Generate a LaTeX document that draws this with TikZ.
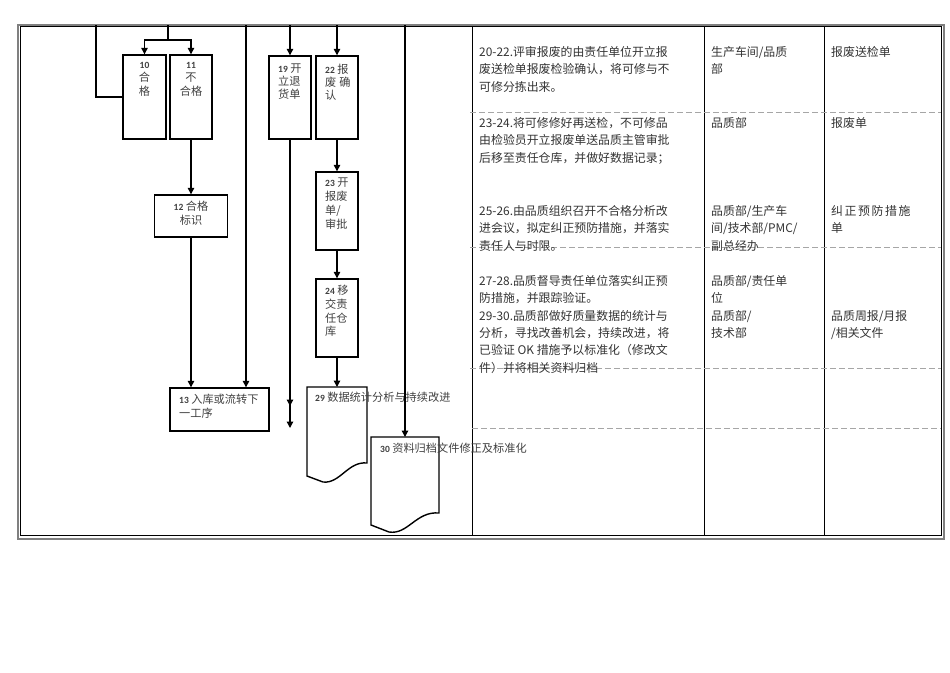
\documentclass[tikz,border=0pt]{standalone}
\usepackage{fontspec}
\setmainfont{Noto Sans CJK SC}
\newfontfamily\numfont{Carlito}
\usetikzlibrary{arrows.meta}
\newcommand\numlab[1]{{\numfont\bfseries\fontsize{9.5}{9.5}\selectfont #1}}
\tikzset{
  box/.style={draw, line width=1.4pt, inner sep=0pt},
  ln/.style={line width=1.3pt},
  arr/.style={line width=1.3pt, -{Triangle[length=6.5pt,width=6.5pt]}},
  frameg/.style={draw=black!50, line width=2pt},
  colline/.style={line width=0.9pt},
  dsh/.style={draw=black!35, line width=0.8pt, dash pattern=on 6pt off 3pt},
  ctext/.style={font=\fontsize{11.9}{17.4}\selectfont, text=black!80, anchor=north west, align=left, inner sep=0pt},
  btext/.style={font=\fontsize{11.2}{13.5}\selectfont, text=black!75, inner sep=0pt},
  bctext/.style={btext, anchor=north, align=center},
  bltext/.style={btext, anchor=north west, align=left},
}
\begin{document}
\begin{tikzpicture}[x=1pt,y=-1pt]
\useasboundingbox (0,0) rectangle (950,672);
% frame
\draw[frameg] (18,25) rectangle (944,538.5);
\draw[colline] (20.5,26) rectangle (941.5,535.5);
\draw[colline] (472.5,26) -- (472.5,535.5);
\draw[colline] (704,26) -- (704,535.5);
\draw[colline] (824,26) -- (824,535.5);
\draw[dsh] (470,112) -- (941,112);
\draw[dsh] (470,247) -- (941,247);
\draw[dsh] (470,368) -- (941,368);
\draw[dsh] (472,428) -- (941,428);

% table texts
\node[ctext] (r1a) at (479,46) {20-22.评审报废的由责任单位开立报\\废送检单报废检验确认，将可修与不\\可修分拣出来。};
\node[ctext] (r2a) at (479,117) {23-24.将可修修好再送检，不可修品\\由检验员开立报废单送品质主管审批\\后移至责任仓库，并做好数据记录；};
\node[ctext] (r3a) at (479,205) {25-26.由品质组织召开不合格分析改\\进会议，拟定纠正预防措施，并落实\\责任人与时限。};
\node[ctext] (r4a) at (479,275) {27-28.品质督导责任单位落实纠正预\\防措施，并跟踪验证。\\29-30.品质部做好质量数据的统计与\\分析，寻找改善机会，持续改进，将\\已验证 OK 措施予以标准化（修改文\\件）并将相关资料归档};
\node[ctext] (r1b) at (711,46) {生产车间/品质\\部};
\node[ctext] (r2b) at (711,117) {品质部};
\node[ctext] (r3b) at (711,205) {品质部/生产车\\间/技术部/PMC/\\副总经办};
\node[ctext] (r4b) at (711,275) {品质部/责任单\\位\\品质部/\\技术部};
\node[ctext] (r1c) at (831,46) {报废送检单};
\node[ctext] (r2c) at (831,117) {报废单};
\node[ctext] (r3c) at (831,205) {纠\hspace{1.6pt}正\hspace{1.6pt}预\hspace{1.6pt}防\hspace{1.6pt}措\hspace{1.6pt}施\\单};
\node[ctext] (r4c) at (831,310) {品质周报/月报\\/相关文件};

% boxes
\node[box, minimum width=43pt, minimum height=84pt] (b10) at (144.5,97) {};
\node[box, minimum width=42pt, minimum height=84pt] (b11) at (191,97) {};
\node[box, minimum width=73pt, minimum height=42pt] (b12) at (191,216) {};
\node[box, minimum width=99pt, minimum height=43pt] (b13) at (219.5,409.5) {};
\node[box, minimum width=42pt, minimum height=83pt] (b19) at (290,97.5) {};
\node[box, minimum width=42pt, minimum height=83pt] (b22) at (337,97.5) {};
\node[box, minimum width=42pt, minimum height=78pt] (b23) at (337,211) {};
\node[box, minimum width=42pt, minimum height=78pt] (b24) at (337,318) {};

% documents
\draw[line width=1.4pt] (307,476) -- (307,387) -- (367,387) -- (367,463)
  .. controls (348,461) and (340,484) .. (323,482) -- cycle;
\draw[line width=1.4pt] (371,525) -- (371,437) -- (439,437) -- (439,513)
  .. controls (416,511) and (408,535) .. (389,532) -- cycle;
\coordinate (d29) at (337,387);
\coordinate (d30) at (405,437);

% box texts
\node[bctext] (t10) at (144.5,62) {\numlab{10}\\合\\格};
\node[bctext] (t11) at (191,62) {\numlab{11}\\不\\合格};
\node[bctext] (t12) at (191,201) {\numlab{12} 合格\\标识};
\node[bltext] (t13) at (179,394) {\numlab{13} 入库或流转下\\一工序};
\node[bltext, font=\fontsize{11.2}{13}\selectfont] (t19) at (278,63.5) {\numlab{19} 开\\立退\\货单};
\node[bltext, font=\fontsize{11.2}{13}\selectfont] (t22) at (325,63.5) {\numlab{22} 报\\废\hspace{3pt}确\\认};
\node[bltext, font=\fontsize{11.2}{14}\selectfont] (t23) at (325,178) {\numlab{23} 开\\报废\\单/\\审批};
\node[bltext, font=\fontsize{11.2}{13.7}\selectfont] (t24) at (325,285) {\numlab{24} 移\\交责\\任仓\\库};
\node[bltext] (t29) at (315,392) {\numlab{29} 数据统计分析与持续改进};
\node[bltext] (t30) at (380,443) {\numlab{30} 资料归档文件修正及标准化};

% connectors
\coordinate (c96) at (96,25);
\coordinate (c168) at (168,25);
\coordinate (j168) at (168,40);
\coordinate (c246) at (246,25);
\coordinate (c290) at (290,25);
\coordinate (c337) at (337,25);
\coordinate (c405) at (405,25);
\coordinate (e405) at (290,406);
\coordinate (e428) at (290,428);
\draw[ln] (c96) |- (b10.west);
\draw[ln] (c168) -- (j168);
\draw[arr] (j168) -| (b10.north);
\draw[arr] (j168) -| (b11.north);
\draw[arr] (b11.south) -- (b12.north);
\draw[arr] (b12.south) -- (b12.south |- b13.north);
\draw[arr] (c246) -- (c246 |- b13.north);
\draw[arr] (c290) -- (b19.north);
\draw[arr] (c337) -- (b22.north);
\draw[arr] (b22.south) -- (b23.north);
\draw[arr] (b23.south) -- (b24.north);
\draw[arr] (b24.south) -- (d29);
\draw[arr] (b19.south) -- (e405);
\draw[arr] (b19.south) -- (e428);
\draw[arr] (c405) -- (d30);
\end{tikzpicture}
\end{document}
